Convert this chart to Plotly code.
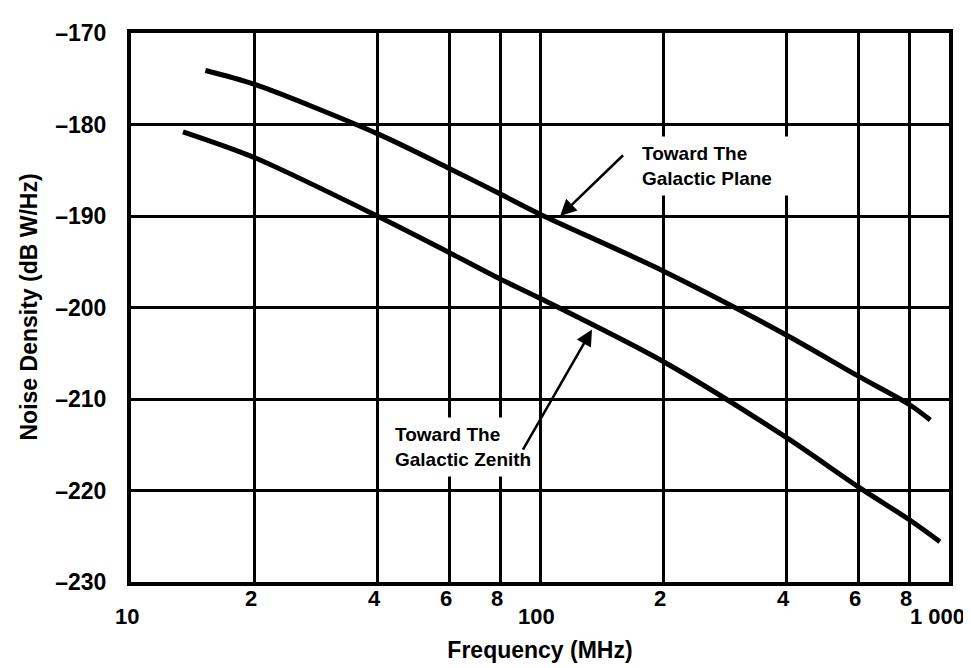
"""
Galactic noise density versus frequency
"""

import numpy as np
import plotly.graph_objects as go

# Curve readings (frequency in MHz, noise density in dB W/Hz)
plane_freq = [15.2, 20, 40, 60, 80, 100, 200, 400, 600, 800, 900]
plane_db = [-174.1, -175.6, -181.0, -184.8, -187.6, -189.8, -196.0,
            -203.0, -207.5, -210.6, -212.3]

zenith_freq = [13.4, 20, 40, 60, 80, 100, 200, 400, 600, 800, 950]
zenith_db = [-180.8, -183.6, -190.0, -194.0, -196.9, -199.0, -205.9, -214.2,
             -219.6, -223.2, -225.6]

# Axis ticks
grid_freq = [20, 40, 60, 80, 100, 200, 400, 600, 800]
minor_labels = {20: '2', 40: '4', 60: '6', 80: '8',
                200: '2', 400: '4', 600: '6', 800: '8'}
decade_labels = {10: '10', 100: '100', 1000: '1 000'}
y_ticks = [-230, -220, -210, -200, -190, -180, -170]

# Label / arrow anchors (frequency, dB)
plane_label = (171, -184.5)
plane_arrow_tail = (161, -183.2)
plane_arrow_head = (112, -190.0)
zenith_label = (42.6, -215.2)
zenith_arrow_tail = (90.4, -215.7)
zenith_arrow_head = (134, -202.4)

FONT = 'Liberation Sans, Arial, sans-serif'

fig = go.Figure()

fig.add_trace(go.Scatter(
    x=plane_freq, y=plane_db, mode='lines',
    line=dict(color='black', width=5, shape='spline', smoothing=0.8),
    name='Toward The Galactic Plane'
))
fig.add_trace(go.Scatter(
    x=zenith_freq, y=zenith_db, mode='lines',
    line=dict(color='black', width=5, shape='spline', smoothing=0.8),
    name='Toward The Galactic Zenith'
))

annotations = []

# x tick labels, staggered like the original
for f, txt in minor_labels.items():
    annotations.append(dict(
        x=np.log10(f), y=0, xref='x', yref='paper', text=f'<b>{txt}</b>',
        showarrow=False, yanchor='top', xanchor='center', xshift=-3, yshift=-2,
        font=dict(family=FONT, size=22, color='black')
    ))
for f, txt in decade_labels.items():
    annotations.append(dict(
        x=np.log10(f), y=0, xref='x', yref='paper', text=f'<b>{txt}</b>',
        showarrow=False, yanchor='top', xanchor='center',
        xshift=-12 if f == 1000 else -4, yshift=-20,
        font=dict(family=FONT, size=22, color='black')
    ))

# y axis title, set a bit further out than plotly's standoff allows
annotations.append(dict(
    x=0, y=0.5, xref='paper', yref='paper', xshift=-103,
    text='<b>Noise Density (dB W/Hz)</b>', textangle=-90, showarrow=False,
    xanchor='center', yanchor='middle',
    font=dict(family=FONT, size=23, color='black')
))

# Curve labels with white knockout behind them
annotations.append(dict(
    x=np.log10(plane_label[0]), y=plane_label[1], xref='x', yref='y',
    text='<b>Toward The<br>Galactic Plane</b>', showarrow=False,
    xanchor='left', yanchor='middle', align='left',
    bgcolor='white', borderpad=6, width=150,
    font=dict(family=FONT, size=19, color='black')
))
annotations.append(dict(
    x=np.log10(zenith_label[0]), y=zenith_label[1], xref='x', yref='y',
    text='<b>Toward The<br>Galactic Zenith</b>', showarrow=False,
    xanchor='left', yanchor='middle', align='left',
    bgcolor='white', borderpad=6,
    font=dict(family=FONT, size=19, color='black')
))

# Arrows
for tail, head in [(plane_arrow_tail, plane_arrow_head),
                   (zenith_arrow_tail, zenith_arrow_head)]:
    annotations.append(dict(
        x=np.log10(head[0]), y=head[1], ax=np.log10(tail[0]), ay=tail[1],
        xref='x', yref='y', axref='x', ayref='y', text='',
        showarrow=True, arrowhead=2, arrowsize=1.3, arrowwidth=2.5,
        arrowcolor='black'
    ))

fig.update_layout(
    width=971, height=668,
    margin=dict(l=123, r=30, t=22, b=94),
    paper_bgcolor='white', plot_bgcolor='white',
    showlegend=False,
    font=dict(family=FONT, size=22, color='black'),
    annotations=annotations
)

fig.update_xaxes(
    type='log', range=[1, 3],
    tickvals=grid_freq, showticklabels=False, ticks='',
    showgrid=True, gridcolor='black', gridwidth=3,
    showline=True, linecolor='black', linewidth=4, mirror=True,
    zeroline=False,
    title=dict(text='<b>Frequency (MHz)</b>', standoff=58,
               font=dict(family=FONT, size=23))
)
fig.update_yaxes(
    range=[-230, -170], tickvals=y_ticks,
    ticktext=[f'<b>\u2013{abs(v)}</b>' for v in y_ticks],
    ticks='', ticklabelstandoff=16,
    showgrid=True, gridcolor='black', gridwidth=2.5,
    showline=True, linecolor='black', linewidth=4, mirror=True,
    zeroline=False,
    tickfont=dict(family=FONT, size=23)
)

fig.write_html("out.html")
